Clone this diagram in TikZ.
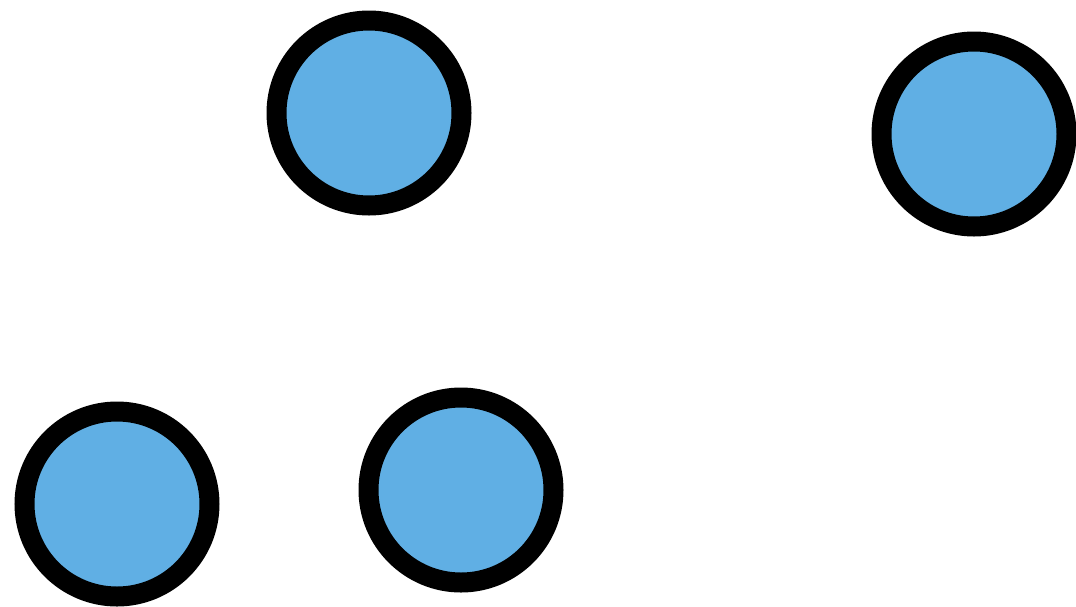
\documentclass[tikz,border=0pt]{standalone}
\usepackage{xcolor}
\usepackage{tikz}
\usetikzlibrary{positioning}
\definecolor{ballblue}{RGB}{96,175,228}

\begin{document}
\begin{tikzpicture}[
        x=1pt, y=-1pt,
        ball/.style={circle, draw=black, line width=20pt, fill=ballblue, minimum size=185pt, inner sep=0pt},
      ]
        \useasboundingbox (0,0) rectangle (1076,606);
        \node[ball] (b1) at (369,113) {};
        \node[ball] (b2) at (974,134) {};
        \node[ball] (b3) at (117,504) {};
        \node[ball] (b4) at (461,490) {};
      \end{tikzpicture}
\end{document}
